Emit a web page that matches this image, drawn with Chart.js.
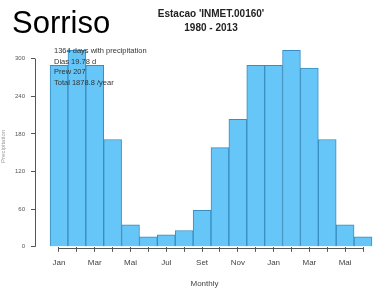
<!DOCTYPE html>
<html>
<head>
<meta charset="utf-8">
<script src="https://cdn.jsdelivr.net/npm/chart.js@4/dist/chart.umd.min.js"></script>
<style>
  html, body { margin: 0; padding: 0; background: #fff; }
  #wrap { position: relative; width: 376px; height: 289px; }
  #city { position: absolute; left: 12px; top: 7px; font: 31px/31px "Liberation Sans", Arial, sans-serif; color: #000; }
</style>
</head>
<body>
<div id="wrap">
  <canvas id="c" width="376" height="289"></canvas>
  <div id="city">Sorriso</div>
</div>
<script>
// 18 months: Jan .. Dez, then Jan .. Jun again
const months = ["Jan", "Fev", "Mar", "Abr", "Mai", "Jun", "Jul", "Ago", "Set", "Out", "Nov", "Dez",
                "Jan", "Fev", "Mar", "Abr", "Mai", "Jun"];
const precip = [289, 313, 289, 171, 35, 16, 19, 26, 58, 158, 203, 289,
                289, 313, 285, 171, 35, 16];
const yTicks = [0, 60, 120, 180, 240, 300];
const titleLines = ["Estacao 'INMET.00160'", "1980 - 2013"];
const notes = ["1364 days with precipitation", "Dias 19.78 d", "Prew 207", "Total 1878.8 /year"];

const axisColor = "#555";

const extras = {
  id: "extras",
  afterDraw(chart) {
    const ctx = chart.ctx;
    const x = chart.scales.x, y = chart.scales.y;
    const area = chart.chartArea;
    ctx.save();
    // R-style axis lines that only span the ticks
    ctx.strokeStyle = axisColor;
    ctx.lineWidth = 1;
    ctx.beginPath();
    ctx.moveTo(Math.round(area.left) + 0.5, y.getPixelForValue(yTicks[0]));
    ctx.lineTo(Math.round(area.left) + 0.5, y.getPixelForValue(yTicks[yTicks.length - 1]));
    ctx.moveTo(x.getPixelForValue(0), Math.round(area.bottom) + 1.5);
    ctx.lineTo(x.getPixelForValue(months.length - 1), Math.round(area.bottom) + 1.5);
    ctx.stroke();
    // title
    ctx.fillStyle = "#222";
    ctx.textAlign = "center";
    ctx.textBaseline = "middle";
    ctx.font = "bold 10px 'Liberation Sans', Arial, sans-serif";
    const cx = (x.getPixelForValue(0) + x.getPixelForValue(months.length - 1)) / 2;
    ctx.fillText(titleLines[0], cx, 14);
    ctx.fillText(titleLines[1], cx, 28);
    // notes
    ctx.textAlign = "left";
    ctx.font = "7.5px 'Liberation Sans', Arial, sans-serif";
    ctx.fillStyle = "#333";
    notes.forEach((t, i) => ctx.fillText(t, 54, 51 + i * 10.7));
    ctx.restore();
  }
};

new Chart(document.getElementById("c"), {
  type: "bar",
  data: {
    datasets: [{
      data: precip.map((v, i) => ({ x: i, y: v })),
      backgroundColor: "#66c6f7",
      borderColor: "#3a8dc0",
      borderWidth: 1,
      barPercentage: 1,
      categoryPercentage: 1
    }]
  },
  options: {
    responsive: false,
    animation: false,
    layout: { padding: { top: 46, right: 2, bottom: 0, left: 0 } },
    plugins: { legend: { display: false }, tooltip: { enabled: false }, title: { display: false } },
    scales: {
      x: {
        type: "linear",
        offset: false,
        min: -1.342,
        max: 17.615,
        afterBuildTicks: (axis) => { axis.ticks = months.map((_, i) => ({ value: i })); },
        ticks: {
          autoSkip: false,
          maxRotation: 0,
          padding: 6,
          color: "#444",
          font: { size: 8, family: "'Liberation Sans', Arial, sans-serif" },
          callback: (v) => (v % 2 === 0 ? months[v] : "")
        },
        grid: { drawOnChartArea: false, tickLength: 5, color: axisColor, offset: false },
        border: { display: false },
        title: {
          display: true,
          text: "Monthly",
          color: "#444",
          font: { size: 8, family: "'Liberation Sans', Arial, sans-serif" },
          padding: { top: 6, bottom: 0 }
        }
      },
      y: {
        min: 0,
        max: 320,
        afterBuildTicks: (axis) => { axis.ticks = yTicks.map((v) => ({ value: v })); },
        afterFit: (s) => { s.width = 35; },
        ticks: {
          padding: 6,
          color: "#555",
          font: { size: 6, family: "'Liberation Sans', Arial, sans-serif" }
        },
        grid: { drawOnChartArea: false, tickLength: 4, color: axisColor },
        border: { display: false },
        title: {
          display: true,
          text: "Precipitation",
          color: "#999",
          font: { size: 6, family: "'Liberation Sans', Arial, sans-serif" },
          padding: 0
        }
      }
    }
  },
  plugins: [extras]
});
</script>
</body>
</html>
